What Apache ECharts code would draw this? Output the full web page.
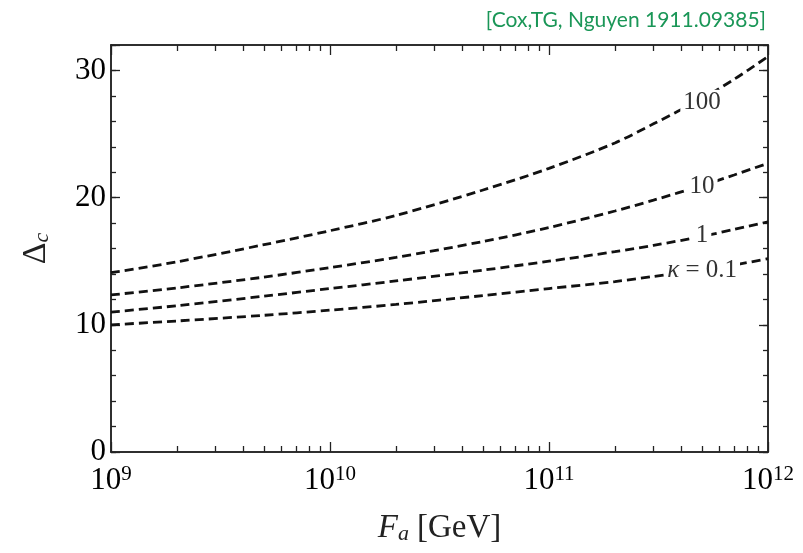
<!DOCTYPE html>
<html>
<head>
<meta charset="utf-8">
<script src="https://cdn.jsdelivr.net/npm/echarts@6/dist/echarts.min.js"></script>
<style>
  html, body { margin: 0; padding: 0; background: #fff; }
  #chart { width: 803px; height: 553px; }
</style>
</head>
<body>
<div id="chart"></div>
<script>
// ---- data ----
const Fa   = [1e9, 2e9, 5e9, 1e10, 2e10, 5e10, 1e11, 2e11, 3e11, 5e11, 7e11, 1e12];
const k100 = [14.1, 14.95, 16.3, 17.4, 18.6, 20.6, 22.3, 24.3, 25.8, 27.8, 29.3, 31.1];
const k10  = [12.35, 12.9, 13.75, 14.5, 15.3, 16.55, 17.65, 18.95, 19.8, 20.95, 21.78, 22.7];
const k1   = [11.0, 11.5, 12.25, 12.85, 13.45, 14.3, 15.0, 15.75, 16.25, 16.95, 17.5, 18.1];
const k01  = [10.0, 10.3, 10.75, 11.15, 11.6, 12.3, 12.85, 13.4, 13.8, 14.3, 14.7, 15.2];

const curveLabels = ['100', '10', '1', '{i|κ} = 0.1'];
const labelFa     = [5e11, 5e11, 5e11, 5e11];
const labelDelta  = [27.5, 20.9, 17.0, 14.3];

const xMajorTicks = [1e9, 1e10, 1e11, 1e12];
const xMinorTicks = [];
[1e9, 1e10, 1e11].forEach(d => { for (let k = 2; k <= 9; k++) xMinorTicks.push(k * d); });
const yTickLabels = [0, 10, 20, 30];

const titleText = '[Cox,TG, Nguyen 1911.09385]';

// ---- chart ----
const chart = echarts.init(document.getElementById('chart'), null, { renderer: 'canvas' });
const axisColor = '#222';
const serif = 'Liberation Serif';

function pair(arr) { return Fa.map((f, i) => [f, arr[i]]); }

function xAxisBase(pos, tickLen, custom) {
  return {
    type: 'log', logBase: 10, min: 1e9, max: 1e12, position: pos,
    axisLine: { show: true, onZero: false, lineStyle: { color: axisColor, width: 1.5 } },
    axisTick: { show: true, inside: true, length: tickLen, customValues: custom,
                lineStyle: { color: axisColor, width: 1.3 } },
    axisLabel: { show: false },
    splitLine: { show: false },
    minorTick: { show: false }
  };
}
function yAxisBase(pos, interval, tickLen) {
  return {
    type: 'value', min: 0, max: 32, interval: interval, position: pos,
    axisLine: { show: true, onZero: false, lineStyle: { color: axisColor, width: 1.5 } },
    axisTick: { show: true, inside: true, length: tickLen, lineStyle: { color: axisColor, width: 1.3 } },
    axisLabel: { show: false },
    splitLine: { show: false }
  };
}

const xMain = xAxisBase('bottom', 10, xMajorTicks);
xMain.axisLabel = {
  show: true, margin: 12, color: '#000',
  customValues: xMajorTicks,
  formatter: v => '{b|10}{s|' + Math.round(Math.log10(v)) + '}',
  rich: {
    b: { fontFamily: serif, fontSize: 31, lineHeight: 32, color: '#000', verticalAlign: 'bottom' },
    s: { fontFamily: serif, fontSize: 21, lineHeight: 21, color: '#000', verticalAlign: 'top' }
  }
};
xMain.name = '{i|F}{sub|a}[GeV]';
xMain.nameLocation = 'middle';
xMain.nameGap = 60;
xMain.nameTextStyle = {
  fontFamily: serif, fontSize: 33, color: '#222',
  rich: {
    i: { fontFamily: serif, fontSize: 33, fontStyle: 'italic', color: '#222' },
    sub: { fontFamily: serif, fontSize: 22, fontStyle: 'italic', color: '#222', verticalAlign: 'bottom', padding: [0, 8, 0, 0] }
  }
};

const yMain = yAxisBase('left', 10, 9);
yMain.axisLabel = {
  show: true, margin: 5, color: '#000', fontFamily: serif, fontSize: 31,
  customValues: yTickLabels,
  formatter: v => (yTickLabels.indexOf(v) >= 0 ? String(v) : '')
};
yMain.name = 'Δ{sub|c}';
yMain.nameLocation = 'middle';
yMain.nameRotate = 90;
yMain.nameGap = 58;
yMain.nameTextStyle = {
  fontFamily: serif, fontSize: 34, color: '#222',
  rich: { sub: { fontFamily: serif, fontSize: 22, fontStyle: 'italic', color: '#222', verticalAlign: 'bottom' } }
};

const dashStyle = { color: '#111', width: 2.8, type: [9, 5] };
function curve(name, arr) {
  return {
    name: name, type: 'line', data: pair(arr), xAxisIndex: 0, yAxisIndex: 0,
    smooth: 0.3, showSymbol: false, symbol: 'none', lineStyle: dashStyle, z: 3,
    emphasis: { disabled: true }
  };
}

const option = {
  backgroundColor: '#fff',
  animation: false,
  title: {
    text: titleText, right: 32, top: 5,
    textStyle: { color: '#1a9657', fontFamily: 'Lato', fontWeight: 'normal', fontSize: 21 }
  },
  grid: { left: 111, right: 35, top: 45, bottom: 101, containLabel: false },
  xAxis: [
    xMain,
    xAxisBase('bottom', 6, xMinorTicks),
    xAxisBase('top', 10, xMajorTicks),
    xAxisBase('top', 6, xMinorTicks)
  ],
  yAxis: [
    yMain,
    yAxisBase('left', 2, 5),
    yAxisBase('right', 10, 9),
    yAxisBase('right', 2, 5)
  ],
  series: [
    curve('κ=100', k100),
    curve('κ=10', k10),
    curve('κ=1', k1),
    curve('κ=0.1', k01),
    {
      type: 'custom', xAxisIndex: 0, yAxisIndex: 0, z: 10,
      data: labelFa.map((f, i) => [f, labelDelta[i]]),
      encode: { x: 0, y: 1 },
      renderItem: (params, api) => {
        const p = api.coord([api.value(0), api.value(1)]);
        return {
          type: 'text', x: p[0], y: p[1], z2: 100,
          style: {
            text: curveLabels[params.dataIndex],
            fill: '#333', fontFamily: serif, fontSize: 25,
            align: 'center', verticalAlign: 'middle',
            backgroundColor: '#fff', padding: [0, 3, 0, 3],
            rich: { i: { fontFamily: serif, fontSize: 25, fontStyle: 'italic', fill: '#333', backgroundColor: '#fff' } }
          }
        };
      },
      emphasis: { disabled: true }
    }
  ]
};
chart.setOption(option);
</script>
</body>
</html>
